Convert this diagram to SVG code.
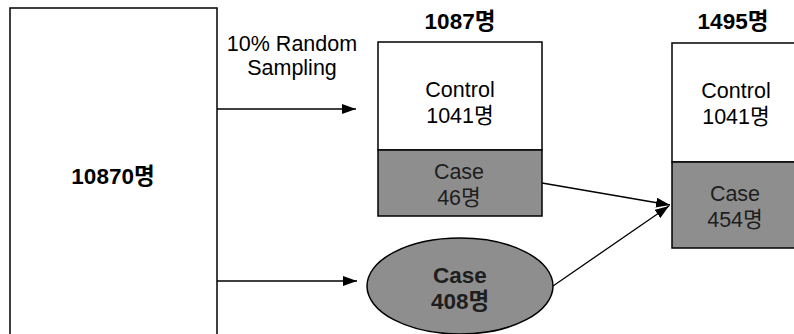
<svg xmlns="http://www.w3.org/2000/svg" width="794" height="334" viewBox="0 0 794 334">
<style>
.t{font-family:"Liberation Sans","Noto Sans CJK KR",sans-serif;font-size:21.5px;fill:#000;text-anchor:middle}
.b{font-weight:bold;font-size:22.5px}
.c{fill:#1e1e1e}
.box{fill:#fff;stroke:#000;stroke-width:1.5}
.grey{fill:#8e8e8e;stroke:#000;stroke-width:1.5}
.con{stroke:#000;stroke-width:1.3;fill:none}
</style>
<defs>
<marker id="ah" viewBox="0 0 14 10" refX="14" refY="5" markerWidth="14" markerHeight="10" markerUnits="userSpaceOnUse" orient="auto">
<path d="M0,0 L14,5 L0,10 Z" fill="#000"/>
</marker>
</defs>
<g id="population">
<rect class="box" x="10" y="8" width="207" height="340"/>
<text class="t b" x="113" y="184">10870명</text>
</g>
<g id="sample">
<text class="t b" x="460" y="29">1087명</text>
<rect class="box" x="378" y="42" width="164" height="108"/>
<rect class="grey" x="378" y="150" width="164" height="66"/>
<text class="t" x="460" y="97">Control</text>
<text class="t" x="460" y="123">1041명</text>
<text class="t c" x="459" y="179">Case</text>
<text class="t c" x="459" y="205">46명</text>
</g>
<g id="allcase">
<ellipse class="grey" cx="460" cy="286" rx="93" ry="48"/>
<text class="t b c" x="460" y="283">Case</text>
<text class="t b c" x="460" y="309">408명</text>
</g>
<g id="final">
<text class="t b" x="733" y="29">1495명</text>
<rect class="box" x="672" y="43" width="130" height="119"/>
<rect class="grey" x="672" y="162" width="130" height="86"/>
<text class="t" x="736" y="98">Control</text>
<text class="t" x="736" y="124">1041명</text>
<text class="t c" x="735" y="201">Case</text>
<text class="t c" x="735" y="227">454명</text>
</g>
<g id="connectors">
<line class="con" x1="217" y1="109" x2="356" y2="109" marker-end="url(#ah)"/>
<line class="con" x1="217" y1="281" x2="357" y2="281" marker-end="url(#ah)"/>
<line class="con" x1="542" y1="183" x2="670" y2="205" marker-end="url(#ah)"/>
<line class="con" x1="553" y1="286" x2="669" y2="206" marker-end="url(#ah)"/>
<text class="t" x="292" y="51">10% Random</text>
<text class="t" x="292" y="75">Sampling</text>
</g>
</svg>
